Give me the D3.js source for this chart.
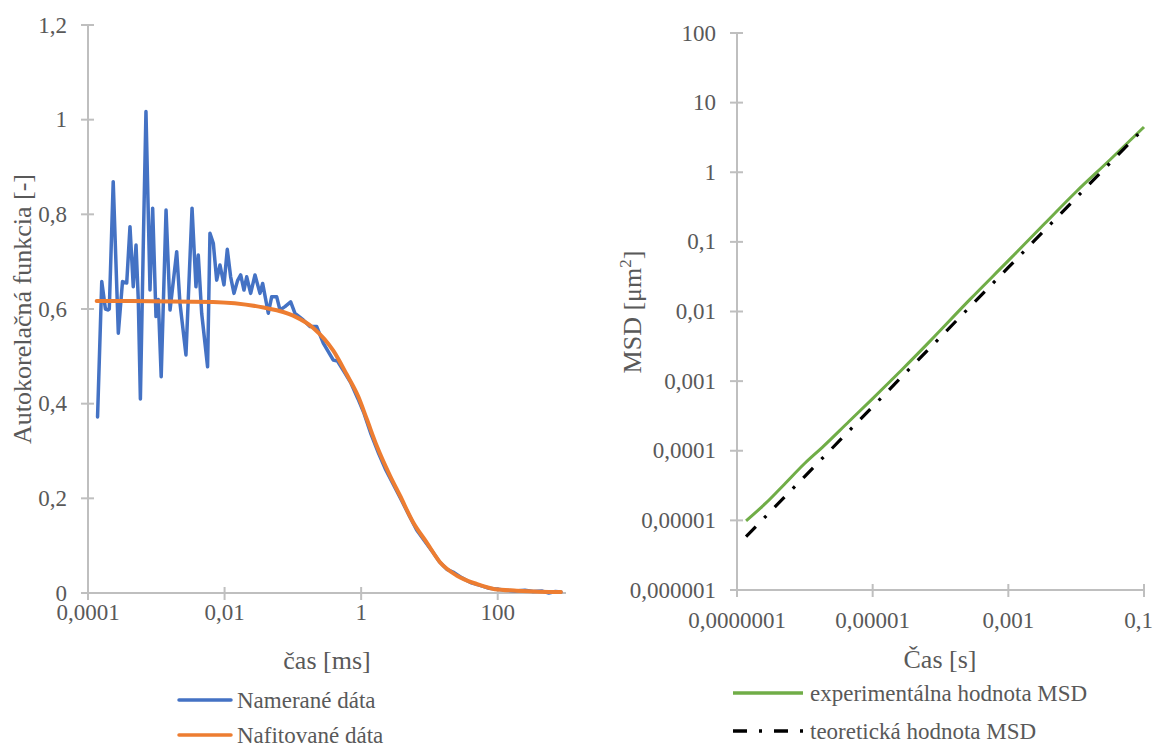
<!DOCTYPE html>
<html>
<head>
<meta charset="utf-8">
<script src="https://cdn.jsdelivr.net/npm/d3@7"></script>
<style>
  html, body { margin: 0; padding: 0; background: #fff; }
  svg { display: block; }
</style>
</head>
<body>
<svg id="chart" width="1155" height="747" font-family="'Liberation Serif', 'Times New Roman', serif"></svg>
<script>
// ---------- DATA (left chart: autocorrelation) ----------
const measuredTau = [1.38e-4, 1.59e-4, 1.8e-4, 1.95e-4, 2.05e-4, 2.34e-4, 2.78e-4, 3.2e-4, 3.69e-4, 4.12e-4, 4.6e-4, 5.05e-4, 5.45e-4, 5.85e-4, 6.5e-4, 7.06e-4, 8.09e-4, 8.85e-4, 9.9e-4, 1.07e-3, 1.18e-3, 1.39e-3, 1.59e-3, 1.99e-3, 2.22e-3, 2.72e-3, 3.34e-3, 3.81e-3, 4.12e-3, 4.62e-3, 5.64e-3, 6.11e-3, 6.84e-3, 7.66e-3, 8.57e-3, 9.8e-3, 0.01096, 0.01227, 0.01374, 0.0155, 0.01722, 0.01923, 0.0211, 0.0241, 0.0279, 0.033, 0.0361, 0.0437, 0.049, 0.0579, 0.0647, 0.0766, 0.0929, 0.1074, 0.142, 0.178, 0.223, 0.279, 0.391, 0.45, 0.55, 0.7, 0.9, 1.1, 1.4, 1.8, 2.3, 3.0, 3.9, 5.0, 6.5, 8.5, 11, 14, 18, 23, 30, 40, 55, 75, 100, 130, 180, 250, 330, 450, 560, 700, 841];
const measuredG = [0.372, 0.658, 0.6, 0.598, 0.6, 0.869, 0.549, 0.658, 0.655, 0.774, 0.647, 0.735, 0.62, 0.41, 0.76, 1.017, 0.64, 0.813, 0.584, 0.62, 0.457, 0.809, 0.598, 0.721, 0.613, 0.503, 0.813, 0.647, 0.714, 0.591, 0.478, 0.76, 0.739, 0.661, 0.693, 0.651, 0.726, 0.668, 0.633, 0.66, 0.672, 0.64, 0.668, 0.633, 0.672, 0.633, 0.654, 0.591, 0.626, 0.626, 0.598, 0.605, 0.615, 0.591, 0.577, 0.563, 0.563, 0.528, 0.492, 0.49, 0.47, 0.445, 0.41, 0.38, 0.335, 0.295, 0.26, 0.228, 0.196, 0.165, 0.133, 0.11, 0.088, 0.066, 0.05, 0.043, 0.032, 0.022, 0.016, 0.01, 0.008, 0.006, 0.004, 0.006, 0.003, 0.004, 0.0, 0.003, 0.002];

const fitTau = [1.34e-4, 6.8e-3, 0.0371, 0.101, 0.199, 0.391, 0.614, 0.908, 1.205, 1.69, 2.64, 3.70, 5.79, 9.10, 14.3, 25.0, 49.1, 91, 189, 728, 841];
const fitG   = [0.617, 0.615, 0.603, 0.586, 0.560, 0.512, 0.462, 0.415, 0.368, 0.311, 0.248, 0.206, 0.149, 0.107, 0.065, 0.037, 0.019, 0.008, 0.005, 0.002, 0.002];

const leftXTicks = [1e-4, 1e-2, 1, 100];
const leftXTickLabels = ["0,0001", "0,01", "1", "100"];
const leftYTicks = [0, 0.2, 0.4, 0.6, 0.8, 1.0, 1.2];
const leftYTickLabels = ["0", "0,2", "0,4", "0,6", "0,8", "1", "1,2"];

// ---------- DATA (right chart: MSD) ----------
const expTime = [1.36e-7, 2.63e-7, 5.01e-7, 1e-6, 1.81e-6, 4.47e-6, 1e-5, 2.74e-5, 6.78e-5, 2.7e-4, 1e-3, 3.41e-3, 0.01, 0.0316, 0.1];
const expMSD  = [9.84e-6, 1.75e-5, 3.31e-5, 6.61e-5, 1.12e-4, 2.63e-4, 5.62e-4, 1.48e-3, 3.63e-3, 0.0148, 0.0537, 0.182, 0.525, 1.51, 4.46];

const theoTime = [1.36e-7, 1e-6, 1e-5, 1e-4, 1e-3, 1e-2, 0.1];
const theoMSD  = [5.85e-6, 4.3e-5, 4.3e-4, 4.3e-3, 0.043, 0.43, 4.3];

const rightXTicks = [1e-7, 1e-5, 1e-3, 1e-1];
const rightXTickLabels = ["0,0000001", "0,00001", "0,001", "0,1"];
const rightYTicks = [1e-6, 1e-5, 1e-4, 1e-3, 1e-2, 1e-1, 1, 10, 100];
const rightYTickLabels = ["0,000001", "0,00001", "0,0001", "0,001", "0,01", "0,1", "1", "10", "100"];

// ---------- STYLE ----------
const AXIS = "#BFBFBF";
const TXT = "#595959";
const BLUE = "#4472C4", ORANGE = "#ED7D31", GREEN = "#70AD47";
const tickFont = 23, titleFont = 26, legendFont = 23;

const svg = d3.select("#chart");

function drawAxes(g, x, y, xTicks, xLabels, yTicks, yLabels, xLabelDy, maxRight) {
  const [x0, x1] = x.range();
  const [y0, y1] = y.range();
  g.append("line").attr("x1", x0).attr("x2", x1).attr("y1", y0).attr("y2", y0)
    .attr("stroke", AXIS).attr("stroke-width", 2);
  g.append("line").attr("x1", x0).attr("x2", x0).attr("y1", y0).attr("y2", y1)
    .attr("stroke", AXIS).attr("stroke-width", 2);
  g.selectAll(".xt").data(xTicks).join("line")
    .attr("x1", d => x(d)).attr("x2", d => x(d))
    .attr("y1", y0 - 6).attr("y2", y0 + 7)
    .attr("stroke", AXIS).attr("stroke-width", 2);
  g.selectAll(".xl").data(xTicks).join("text")
    .attr("x", d => x(d)).attr("y", y0 + xLabelDy)
    .attr("text-anchor", "middle").attr("fill", TXT).attr("font-size", tickFont)
    .text((d, i) => xLabels[i])
    .each(function() {
      const bb = this.getBBox();
      if (bb.x + bb.width > maxRight) {
        d3.select(this).attr("text-anchor", "end").attr("x", maxRight);
      }
    });
  g.selectAll(".yt").data(yTicks).join("line")
    .attr("x1", x0 - 7).attr("x2", x0 + 6)
    .attr("y1", d => y(d)).attr("y2", d => y(d))
    .attr("stroke", AXIS).attr("stroke-width", 2);
  g.selectAll(".yl").data(yTicks).join("text")
    .attr("x", x0 - 21).attr("y", d => y(d))
    .attr("dy", "0.33em")
    .attr("text-anchor", "end").attr("fill", TXT).attr("font-size", tickFont)
    .text((d, i) => yLabels[i]);
}

// ---------- LEFT CHART ----------
const xL = d3.scaleLog().domain([1e-4, 1e3]).range([88, 566]);
const yL = d3.scaleLinear().domain([0, 1.2]).range([593, 25]);
const gL = svg.append("g");
drawAxes(gL, xL, yL, leftXTicks, leftXTickLabels, leftYTicks, leftYTickLabels, 27, 1153);

gL.append("path").datum(measuredTau.map((t, i) => [t, measuredG[i]]))
  .attr("d", d3.line().x(d => xL(d[0])).y(d => yL(d[1])))
  .attr("fill", "none").attr("stroke", BLUE).attr("stroke-width", 3.5)
  .attr("stroke-linejoin", "round").attr("stroke-linecap", "round");
gL.append("path").datum(fitTau.map((t, i) => [t, fitG[i]]))
  .attr("d", d3.line().x(d => xL(d[0])).y(d => yL(d[1])).curve(d3.curveMonotoneX))
  .attr("fill", "none").attr("stroke", ORANGE).attr("stroke-width", 4)
  .attr("stroke-linecap", "round");

gL.append("text").attr("x", 327).attr("y", 669).attr("text-anchor", "middle")
  .attr("fill", TXT).attr("font-size", titleFont).text("čas [ms]");
gL.append("text").attr("transform", "translate(31,309) rotate(-90)")
  .attr("text-anchor", "middle").attr("fill", TXT).attr("font-size", titleFont)
  .text("Autokorelačná funkcia [-]");

const legL = [{label: "Namerané dáta", color: BLUE, y: 700}, {label: "Nafitované dáta", color: ORANGE, y: 735}];
legL.forEach(l => {
  gL.append("line").attr("x1", 179).attr("x2", 231).attr("y1", l.y).attr("y2", l.y)
    .attr("stroke", l.color).attr("stroke-width", 3.5).attr("stroke-linecap", "round");
  gL.append("text").attr("x", 237).attr("y", l.y).attr("dy", "0.33em")
    .attr("fill", TXT).attr("font-size", legendFont).text(l.label);
});

// ---------- RIGHT CHART ----------
const xR = d3.scaleLog().domain([1e-7, 0.1]).range([737, 1144]);
const yR = d3.scaleLog().domain([1e-6, 100]).range([590, 33]);
const gR = svg.append("g");
drawAxes(gR, xR, yR, rightXTicks, rightXTickLabels, rightYTicks, rightYTickLabels, 38, 1153);

gR.append("path").datum(expTime.map((t, i) => [t, expMSD[i]]))
  .attr("d", d3.line().x(d => xR(d[0])).y(d => yR(d[1])).curve(d3.curveMonotoneX))
  .attr("fill", "none").attr("stroke", GREEN).attr("stroke-width", 3)
  .attr("stroke-linejoin", "round");
gR.append("path").datum(theoTime.map((t, i) => [t, theoMSD[i]]))
  .attr("d", d3.line().x(d => xR(d[0])).y(d => yR(d[1])))
  .attr("fill", "none").attr("stroke", "#000").attr("stroke-width", 3.2)
  .attr("stroke-dasharray", "14,12,3,12");

gR.append("text").attr("x", 940).attr("y", 668).attr("text-anchor", "middle")
  .attr("fill", TXT).attr("font-size", titleFont).text("Čas [s]");
const msdT = gR.append("text").attr("transform", "translate(641,312) rotate(-90)")
  .attr("text-anchor", "middle").attr("fill", TXT).attr("font-size", titleFont);
msdT.append("tspan").text("MSD [μm");
msdT.append("tspan").attr("font-size", 17).attr("dy", -10).text("2");
msdT.append("tspan").attr("dy", 10).text("]");

const legR = [{label: "experimentálna hodnota MSD", color: GREEN, y: 693, dash: null},
              {label: "teoretická hodnota MSD", color: "#000", y: 731, dash: "14,12,3,12"}];
legR.forEach(l => {
  gR.append("line").attr("x1", 733).attr("x2", 803).attr("y1", l.y).attr("y2", l.y)
    .attr("stroke", l.color).attr("stroke-width", 3.5)
    .attr("stroke-dasharray", l.dash);
  gR.append("text").attr("x", 810).attr("y", l.y).attr("dy", "0.33em")
    .attr("fill", TXT).attr("font-size", legendFont).text(l.label);
});
</script>
</body>
</html>
